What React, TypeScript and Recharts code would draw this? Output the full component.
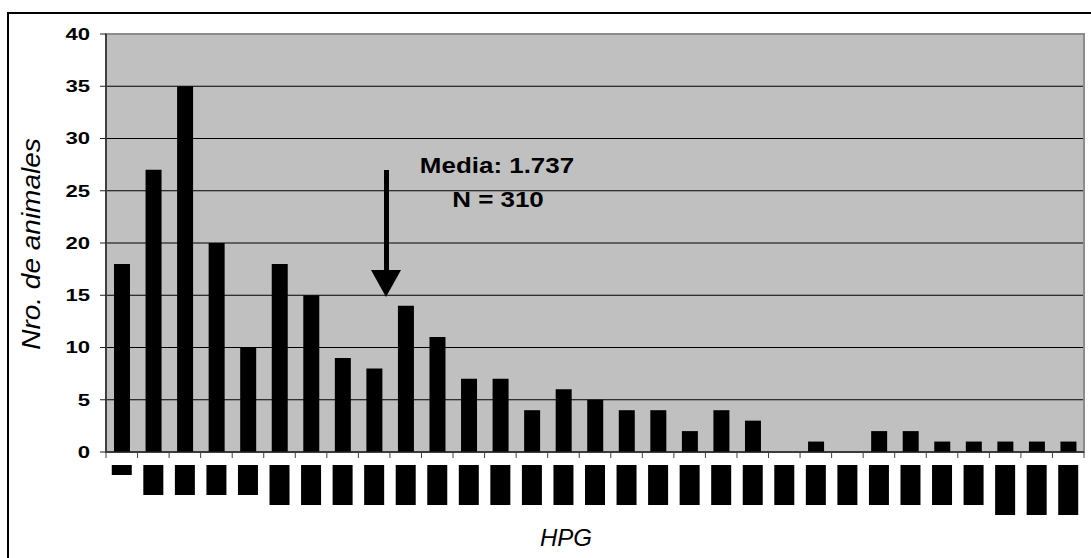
import React from 'react'
import {
  BarChart,
  Bar,
  XAxis,
  YAxis,
  CartesianGrid,
  ReferenceArea,
} from 'recharts'

// HPG classes (step 200) and number of animals in each class
const hpgClasses = [
  '0', '200', '400', '600', '800', '1000', '1200', '1400', '1600', '1800',
  '2000', '2200', '2400', '2600', '2800', '3000', '3200', '3400', '3600', '3800',
  '4000', '4200', '4400', '4600', '4800', '5000', '5200', '5400', '10000', '15000', '20000',
]
const animals = [
  18, 27, 35, 20, 10, 18, 15, 9, 8, 14,
  11, 7, 7, 4, 6, 5, 4, 4, 2, 4,
  3, 0, 1, 0, 2, 2, 1, 1, 1, 1, 1,
]
const yTicks = [0, 5, 10, 15, 20, 25, 30, 35, 40]
const meanLabel = 'Media: 1.737'
const nLabel = 'N = 310'

const data = hpgClasses.map((label, i) => ({ label, count: animals[i] }))

const W = 1091
const H = 558
const PLOT_LEFT = 106
const PLOT_RIGHT = 7
const PLOT_TOP = 34
const PLOT_BOTTOM = 452
const STEP = (W - PLOT_LEFT - PLOT_RIGHT) / data.length
const FONT = '"Liberation Sans", Arial, sans-serif'

function YTick(props: any) {
  const { x, y, payload } = props
  return (
    <text
      transform={`translate(${x},${y}) scale(1.34,1)`}
      textAnchor="end"
      dy="0.36em"
      fontFamily={FONT}
      fontWeight="bold"
      fontSize={16.5}
      fill="#000"
    >
      {payload.value}
    </text>
  )
}

function XTick(props: any) {
  const { x, payload, index } = props
  const len = String(payload.value).length
  const left = x - STEP / 2
  return (
    <g>
      <line x1={left} y1={PLOT_BOTTOM} x2={left} y2={PLOT_BOTTOM + 6} stroke="#404040" strokeWidth={1} />
      {index === data.length - 1 && (
        <line x1={x + STEP / 2} y1={PLOT_BOTTOM} x2={x + STEP / 2} y2={PLOT_BOTTOM + 6} stroke="#404040" strokeWidth={1} />
      )}
      <rect x={x - 10} y={PLOT_BOTTOM + 13} width={20} height={len * 10} fill="#000" />
      <text
        transform={`translate(${x + 6},${PLOT_BOTTOM + 13}) rotate(-90)`}
        textAnchor="end"
        fontFamily={FONT}
        fontSize={14}
        fill="#000"
      >
        {payload.value}
      </text>
    </g>
  )
}

export default function App() {
  return (
    <div style={{ position: 'absolute', left: 0, top: 0, width: W, height: H, overflow: 'hidden', background: '#fff' }}>
      <div
        style={{
          position: 'absolute',
          left: 7,
          top: 12,
          width: W + 20,
          height: H + 20,
          border: '2px solid #000',
          boxSizing: 'border-box',
        }}
      />
      <div style={{ position: 'absolute', left: 0, top: 0 }}>
        <BarChart
          width={W}
          height={H}
          data={data}
          margin={{ top: PLOT_TOP, right: PLOT_RIGHT, bottom: 0, left: 0 }}
        >
          <CartesianGrid vertical={false} stroke="#000" strokeWidth={1} fill="#C0C0C0" />
          <XAxis
            dataKey="label"
            height={H - PLOT_BOTTOM}
            interval={0}
            tickLine={false}
            tick={<XTick />}
            axisLine={{ stroke: '#202020', strokeWidth: 1.5 }}
          />
          <YAxis
            width={PLOT_LEFT}
            domain={[0, 40]}
            ticks={yTicks}
            tickSize={6}
            tickMargin={10}
            tickLine={{ stroke: '#202020' }}
            axisLine={{ stroke: '#404040', strokeWidth: 2 }}
            tick={<YTick />}
          />
          <ReferenceArea y1={0} y2={40} fill="none" stroke="#8c8c8c" strokeWidth={2} />
          <Bar dataKey="count" fill="#000" barSize={16} isAnimationActive={false} />
        </BarChart>
      </div>
      <svg width={W} height={H} style={{ position: 'absolute', left: 0, top: 0, pointerEvents: 'none' }}>
        <text
          transform="translate(40,244) rotate(-90) scale(1.12,1)"
          textAnchor="middle"
          fontFamily={FONT}
          fontStyle="italic"
          fontSize={25}
          fill="#000"
        >
          Nro. de animales
        </text>
        <text x={566} y={546} textAnchor="middle" fontFamily={FONT} fontStyle="italic" fontSize={24} fill="#000">
          HPG
        </text>
        <text
          transform="translate(497,173) scale(1.18,1)"
          textAnchor="middle"
          fontFamily={FONT}
          fontWeight="bold"
          fontSize={22}
          fill="#000"
        >
          {meanLabel}
        </text>
        <text
          transform="translate(498,207) scale(1.18,1)"
          textAnchor="middle"
          fontFamily={FONT}
          fontWeight="bold"
          fontSize={22}
          fill="#000"
        >
          {nLabel}
        </text>
        <rect x={384} y={170} width={5} height={102} fill="#000" />
        <polygon points="371,270 401,270 386,297" fill="#000" />
      </svg>
    </div>
  )
}
